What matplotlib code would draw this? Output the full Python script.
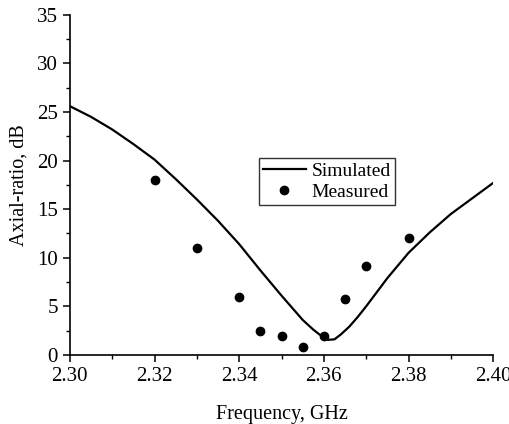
import matplotlib
matplotlib.use("Agg")
import matplotlib.pyplot as plt
from matplotlib.ticker import MultipleLocator, FormatStrFormatter

plt.rcParams['font.family'] = ['Liberation Serif', 'DejaVu Serif']

# simulated axial ratio (dB) vs frequency (GHz)
sim_freq = [2.300, 2.305, 2.310, 2.315, 2.320, 2.325, 2.330, 2.335, 2.340, 2.345,
            2.350, 2.355, 2.3575, 2.360, 2.361, 2.3625, 2.364, 2.366, 2.368, 2.370,
            2.375, 2.380, 2.385, 2.390, 2.395, 2.400]
sim_ar = [25.6, 24.5, 23.2, 21.7, 20.1, 18.1, 16.0, 13.8, 11.4, 8.7,
          6.1, 3.6, 2.6, 1.75, 1.55, 1.6, 2.1, 2.9, 3.9, 5.0,
          7.9, 10.5, 12.6, 14.5, 16.1, 17.7]

# measured points
meas_freq = [2.320, 2.330, 2.340, 2.345, 2.350, 2.355, 2.360, 2.365, 2.370, 2.380]
meas_ar = [18.0, 11.0, 6.0, 2.5, 1.9, 0.8, 1.9, 5.8, 9.1, 12.0]

fig = plt.figure(figsize=(5.1, 4.24), dpi=100)
ax = fig.add_axes([0.137, 0.163, 0.830, 0.802])

ax.plot(sim_freq, sim_ar, color='black', lw=1.6, label='Simulated')
ax.plot(meas_freq, meas_ar, 'o', color='black', ms=6, label='Measured')

ax.set_xlim(2.30, 2.40)
ax.set_ylim(0, 35)
ax.xaxis.set_major_locator(MultipleLocator(0.02))
ax.xaxis.set_minor_locator(MultipleLocator(0.01))
ax.xaxis.set_major_formatter(FormatStrFormatter('%.2f'))
ax.yaxis.set_major_locator(MultipleLocator(5))
ax.yaxis.set_minor_locator(MultipleLocator(2.5))

for side in ('top', 'right'):
    ax.spines[side].set_visible(False)
for side in ('left', 'bottom'):
    ax.spines[side].set_linewidth(1.2)
ax.tick_params(which='major', direction='out', length=5, width=1.1, labelsize=15)
ax.tick_params(which='minor', direction='out', length=3, width=1.0)

ax.set_xlabel('Frequency, GHz', fontsize=14.5, labelpad=14)
ax.set_ylabel('Axial-ratio, dB', fontsize=14.5, labelpad=6)

leg = ax.legend(loc='upper left', bbox_to_anchor=(0.447, 0.579), borderaxespad=0,
                fontsize=14, frameon=True, fancybox=False, edgecolor='black',
                handlelength=2.2, handletextpad=0.3, borderpad=0.2, labelspacing=0.2)
leg.get_frame().set_linewidth(1.0)

fig.savefig('out.png', dpi=100)
